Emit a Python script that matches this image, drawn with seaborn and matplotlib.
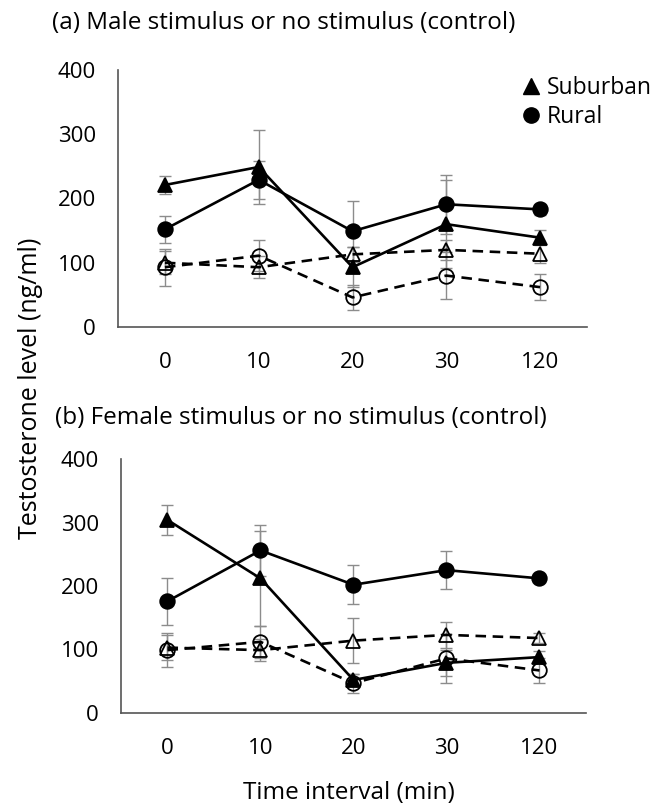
import matplotlib
matplotlib.use("Agg")
import matplotlib.pyplot as plt
from matplotlib.lines import Line2D
import seaborn as sns

times = ["0", "10", "20", "30", "120"]

# (a) male stimulus or no stimulus
male_sub_stim = [221, 249, 93, 160, 139]
male_sub_stim_err = [14, 57, 31, 68, 12]
male_rur_stim = [152, 229, 149, 191, 183]
male_rur_stim_err = [21, 30, 47, 46, 8]
male_sub_ctrl = [100, 93, 113, 120, 114]
male_sub_ctrl_err = [18, 17, 12, 15, 15]
male_rur_ctrl = [93, 111, 46, 80, 62]
male_rur_ctrl_err = [29, 24, 19, 36, 20]

# (b) female stimulus or no stimulus
fem_sub_stim = [304, 212, 52, 79, 88]
fem_sub_stim_err = [24, 75, 10, 20, 10]
fem_rur_stim = [176, 256, 202, 225, 212]
fem_rur_stim_err = [37, 40, 31, 30, 6]
fem_sub_ctrl = [103, 99, 114, 123, 118]
fem_sub_ctrl_err = [20, 17, 36, 20, 8]
fem_rur_ctrl = [99, 112, 47, 86, 67]
fem_rur_ctrl_err = [27, 25, 15, 38, 20]

FONT = ["Open Sans", "DejaVu Sans"]
sns.set_style("white")
plt.rcParams["font.family"] = FONT
plt.rcParams["text.color"] = "black"
plt.rcParams["xtick.color"] = "black"
plt.rcParams["ytick.color"] = "black"

pos = list(range(len(times)))


def draw_panel(ax, series):
    for vals, err, marker, filled, ls in series:
        ax.errorbar(pos, vals, yerr=err, fmt="none", ecolor="#8c8c8c",
                    elinewidth=1.0, capsize=4, capthick=1.0, zorder=2)
        sns.lineplot(x=pos, y=vals, ax=ax, color="black", linestyle=ls,
                     linewidth=1.9, marker=marker, markersize=10.5,
                     markerfacecolor="black" if filled else "none",
                     markeredgecolor="black", markeredgewidth=1.3,
                     zorder=3)
    ax.set_xlim(-0.5, 4.5)
    ax.set_ylim(0, 400)
    ax.set_xticks(pos)
    ax.set_xticklabels(times)
    ax.set_yticks([0, 100, 200, 300, 400])
    ax.tick_params(axis="x", length=0, pad=18, labelsize=16)
    ax.tick_params(axis="y", length=0, pad=16, labelsize=16)
    for s in ["top", "right"]:
        ax.spines[s].set_visible(False)
    for s in ["left", "bottom"]:
        ax.spines[s].set_color("#555555")
        ax.spines[s].set_linewidth(1.2)
    ax.set_xlabel("")
    ax.set_ylabel("")


fig = plt.figure(figsize=(6.72, 8.06), dpi=100)
ax_a = fig.add_axes([0.1756, 0.5943, 0.698, 0.3189])
ax_b = fig.add_axes([0.1800, 0.1154, 0.692, 0.3151])

dash = (0, (4, 2.5))
draw_panel(ax_a, [
    (male_sub_ctrl, male_sub_ctrl_err, "^", False, dash),
    (male_rur_ctrl, male_rur_ctrl_err, "o", False, dash),
    (male_rur_stim, male_rur_stim_err, "o", True, "-"),
    (male_sub_stim, male_sub_stim_err, "^", True, "-"),
])
draw_panel(ax_b, [
    (fem_sub_ctrl, fem_sub_ctrl_err, "^", False, dash),
    (fem_rur_ctrl, fem_rur_ctrl_err, "o", False, dash),
    (fem_rur_stim, fem_rur_stim_err, "o", True, "-"),
    (fem_sub_stim, fem_sub_stim_err, "^", True, "-"),
])

handles = [
    Line2D([], [], linestyle="none", marker="^", markersize=11, color="black"),
    Line2D([], [], linestyle="none", marker="o", markersize=11, color="black"),
]
ax_a.legend(handles, ["Suburban", "Rural"], loc="upper left",
            bbox_to_anchor=(0.86, 0.975), frameon=False, fontsize=16.5,
            handlelength=0.8, handletextpad=0.3, borderpad=0,
            borderaxespad=0, labelspacing=0.2)

fig.text(52 / 672, 1 - 23 / 806, "(a) Male stimulus or no stimulus (control)",
         ha="left", va="center", fontsize=17.5)
fig.text(55 / 672, 1 - 418 / 806, "(b) Female stimulus or no stimulus (control)",
         ha="left", va="center", fontsize=17.5)
fig.text(31 / 672, 1 - 388 / 806, "Testosterone level (ng/ml)",
         rotation=90, ha="center", va="center", fontsize=18)
fig.text(349 / 672, 1 - 793 / 806, "Time interval (min)",
         ha="center", va="center", fontsize=17.5)

fig.savefig("out.png", dpi=100)
